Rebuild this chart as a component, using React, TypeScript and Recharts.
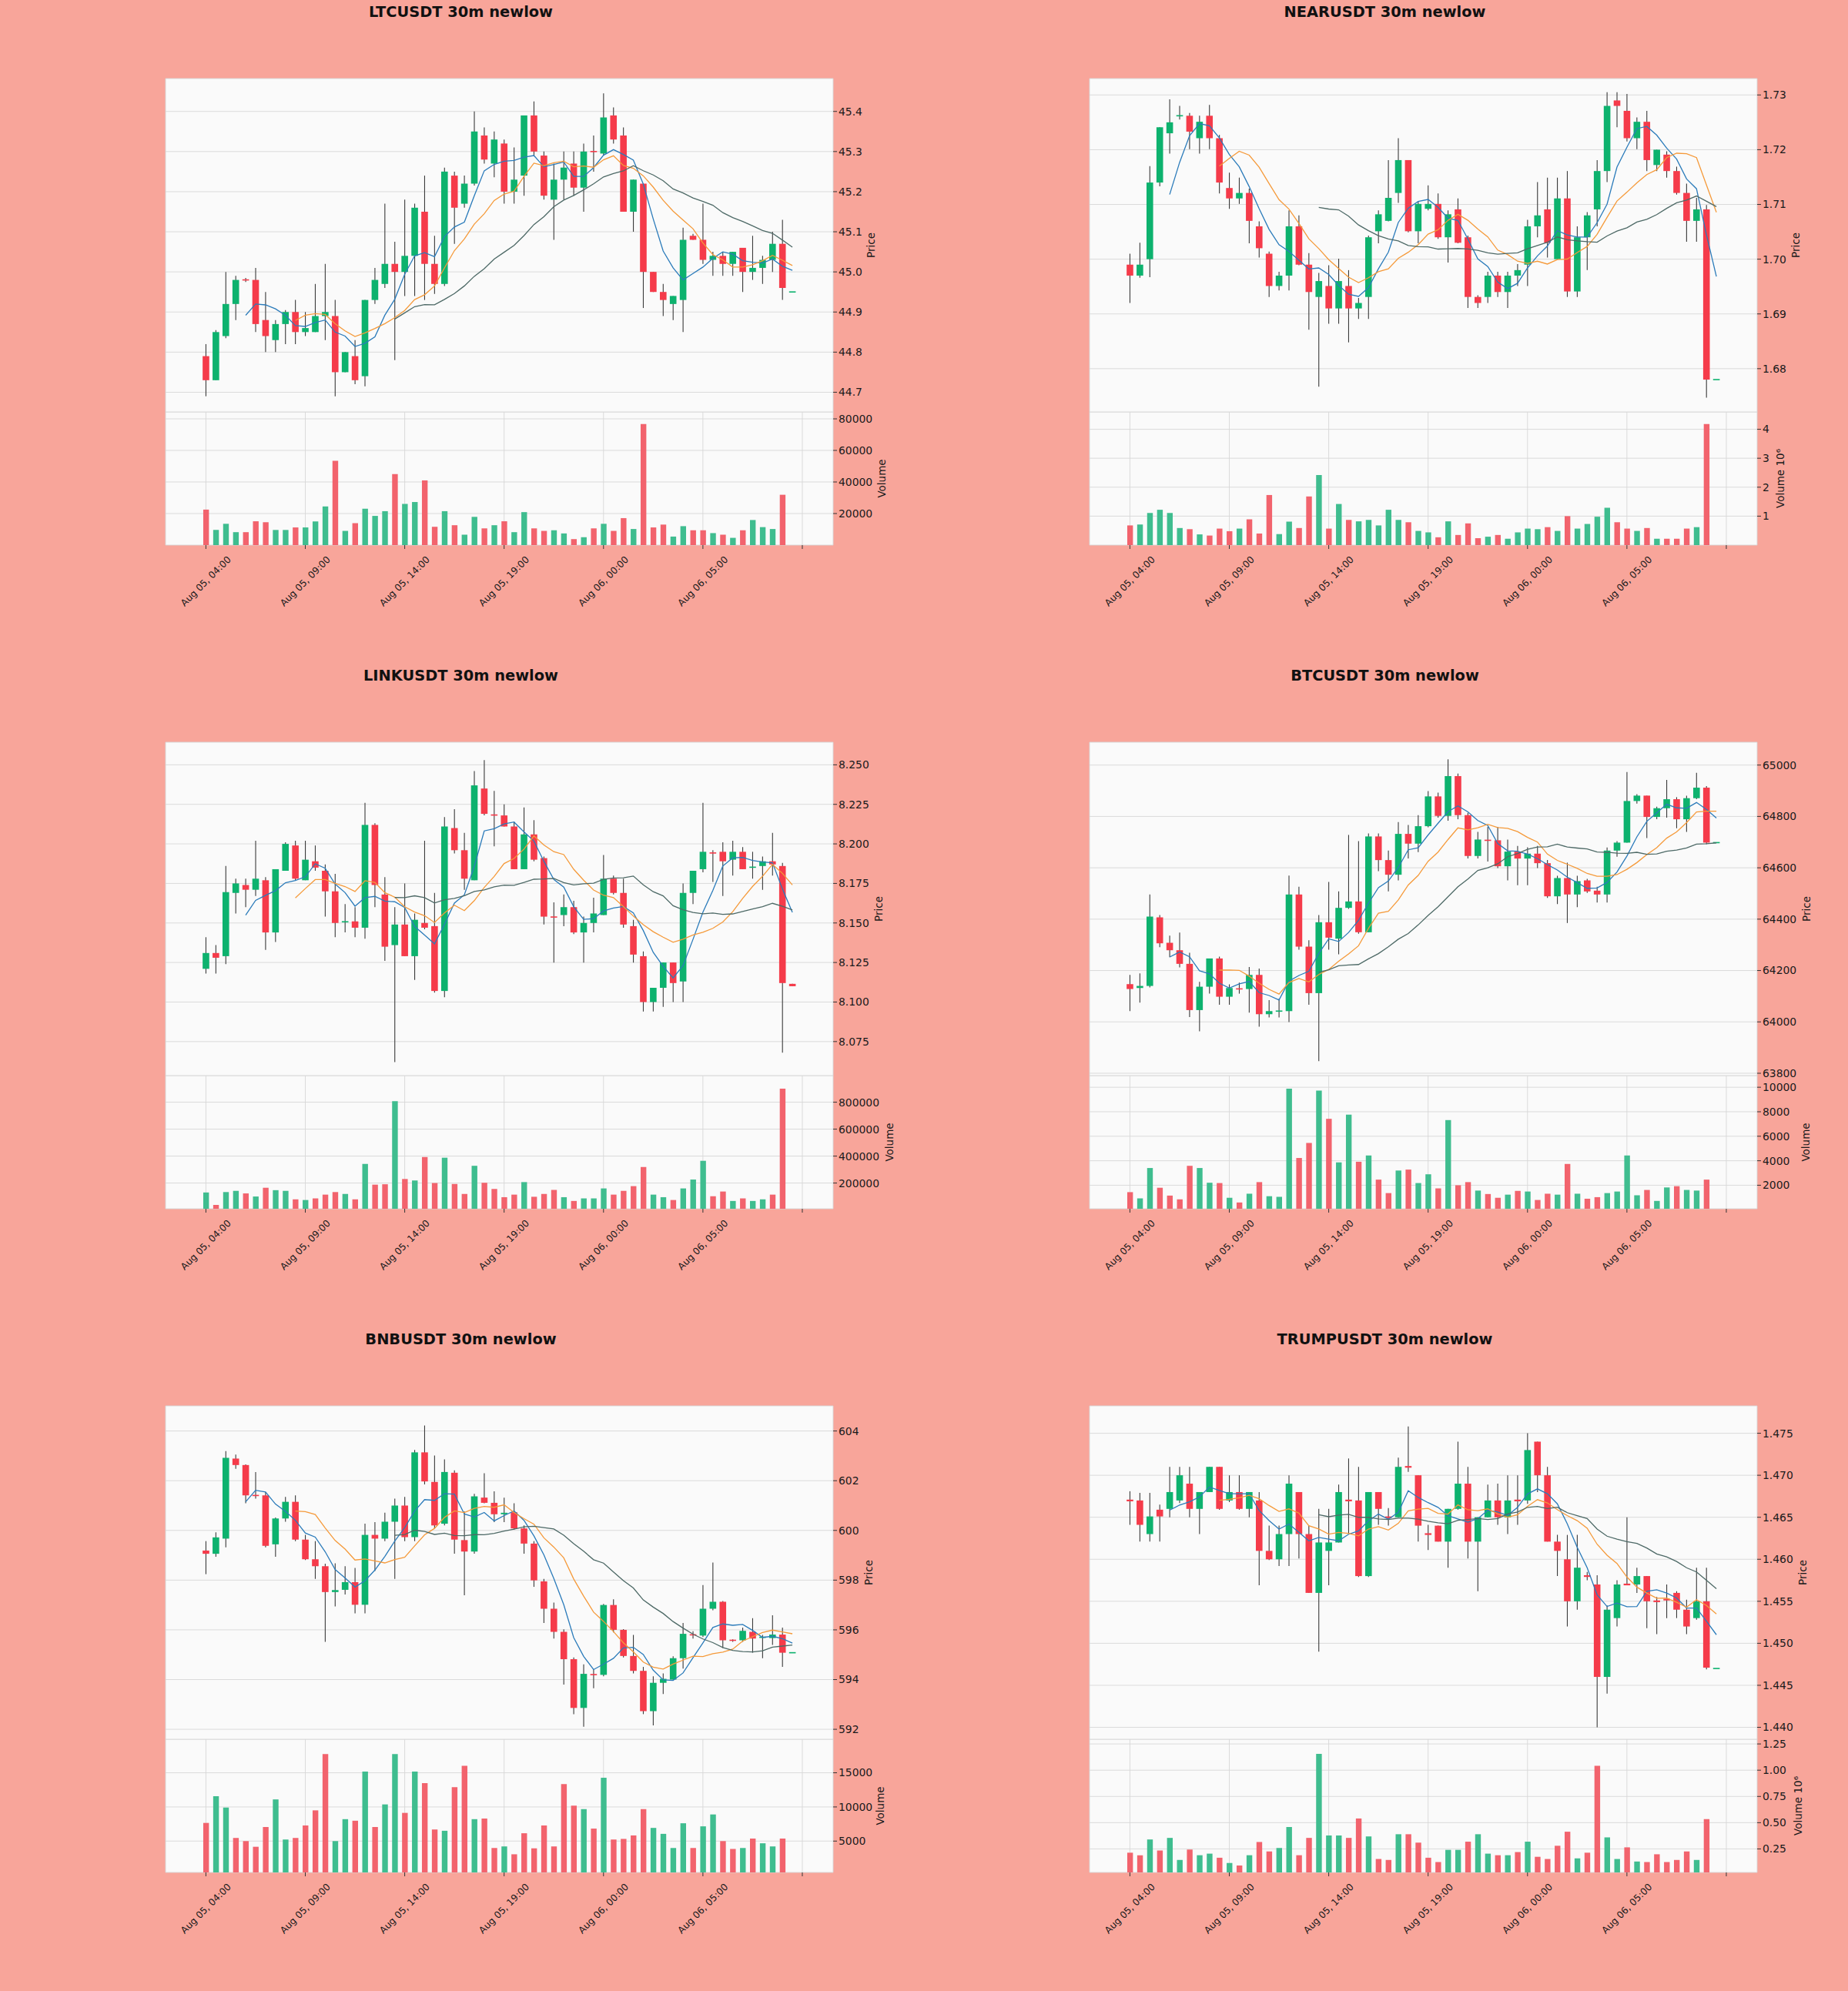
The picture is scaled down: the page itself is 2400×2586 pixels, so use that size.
import React from 'react';
import { ComposedChart, Bar, Line, XAxis, YAxis, CartesianGrid, Cell } from 'recharts';

// shared x axis: 30m candles, index 0 = Aug 05 04:00
const xTicks = [0, 10, 20, 30, 40, 50, 60];
const xTickLabels = ['Aug 05, 04:00', 'Aug 05, 09:00', 'Aug 05, 14:00', 'Aug 05, 19:00', 'Aug 06, 00:00', 'Aug 06, 05:00', ''];

// ---------------- LTCUSDT ----------------
const ltcOpen = [44.79, 44.73, 44.84, 44.92, 44.981, 44.98, 44.88, 44.83, 44.87, 44.9, 44.85, 44.85, 44.89, 44.89, 44.75, 44.79, 44.74, 44.93, 44.97, 45.02, 45.0, 45.04, 45.15, 45.02, 44.97, 45.24, 45.17, 45.22, 45.34, 45.27, 45.32, 45.2, 45.24, 45.39, 45.29, 45.18, 45.23, 45.27, 45.21, 45.301, 45.295, 45.39, 45.34, 45.15, 45.22, 45.0, 44.95, 44.92, 44.93, 45.09, 45.08, 45.03, 45.04, 45.02, 45.06, 45.0, 45.01, 45.03, 45.07, 44.95];
const ltcHigh = [44.82, 44.855, 45.0, 44.99, 44.985, 45.01, 44.95, 44.88, 44.905, 44.93, 44.9, 44.97, 45.02, 44.93, 44.8, 44.83, 44.93, 45.01, 45.17, 45.075, 45.18, 45.17, 45.24, 45.09, 45.26, 45.25, 45.24, 45.4, 45.36, 45.35, 45.33, 45.31, 45.39, 45.425, 45.3, 45.27, 45.3, 45.3, 45.32, 45.34, 45.445, 45.41, 45.36, 45.23, 45.22, 45.0, 44.97, 44.94, 45.11, 45.095, 45.17, 45.05, 45.05, 45.05, 45.06, 45.09, 45.04, 45.1, 45.13, 44.95];
const ltcLow = [44.69, 44.73, 44.835, 44.88, 44.975, 44.85, 44.8, 44.8, 44.82, 44.82, 44.84, 44.85, 44.83, 44.69, 44.75, 44.72, 44.715, 44.92, 44.96, 44.78, 44.94, 44.94, 44.93, 44.945, 44.965, 45.07, 45.16, 45.215, 45.27, 45.236, 45.17, 45.17, 45.19, 45.29, 45.18, 45.08, 45.18, 45.19, 45.15, 45.25, 45.29, 45.32, 45.15, 45.1, 44.91, 44.95, 44.89, 44.88, 44.85, 45.08, 45.02, 44.99, 44.99, 44.99, 44.95, 44.98, 44.97, 45.0, 44.93, 44.95];
const ltcClose = [44.73, 44.85, 44.92, 44.98, 44.979, 44.87, 44.84, 44.87, 44.9, 44.85, 44.86, 44.89, 44.9, 44.75, 44.8, 44.73, 44.93, 44.98, 45.02, 45.0, 45.04, 45.16, 45.02, 44.97, 45.25, 45.16, 45.22, 45.35, 45.28, 45.33, 45.2, 45.23, 45.39, 45.3, 45.19, 45.23, 45.26, 45.21, 45.3, 45.299, 45.385, 45.33, 45.15, 45.23, 45.0, 44.95, 44.93, 44.94, 45.08, 45.08, 45.03, 45.04, 45.02, 45.05, 45.0, 45.01, 45.03, 45.07, 44.96, 44.95];
const ltcVolume = [22500, 9600, 13500, 8200, 8200, 15100, 14500, 9600, 9600, 11200, 11200, 15000, 24500, 53400, 9000, 13900, 23100, 18500, 21500, 45000, 26100, 27300, 41000, 11600, 21500, 12600, 6600, 17900, 10600, 12600, 15100, 8200, 20900, 10600, 9000, 9400, 7400, 3800, 5000, 10600, 13500, 9000, 17100, 10200, 76700, 11200, 13000, 5400, 12000, 9400, 9400, 7600, 6600, 4600, 9400, 15900, 11400, 10200, 31900, 0];

// ---------------- NEARUSDT ----------------
const nearOpen = [1.699, 1.697, 1.7, 1.714, 1.723, 1.7261, 1.7262, 1.7221, 1.7262, 1.7221, 1.713, 1.7111, 1.7121, 1.706, 1.701, 1.6951, 1.697, 1.706, 1.699, 1.6931, 1.6951, 1.691, 1.6951, 1.691, 1.6931, 1.7051, 1.707, 1.7121, 1.7181, 1.7051, 1.7092, 1.7101, 1.704, 1.7091, 1.704, 1.6931, 1.6931, 1.697, 1.694, 1.697, 1.699, 1.706, 1.7091, 1.7, 1.7111, 1.6941, 1.704, 1.7091, 1.7161, 1.729, 1.7271, 1.7221, 1.7251, 1.7172, 1.7191, 1.7161, 1.7121, 1.707, 1.7091, 1.678];
const nearHigh = [1.701, 1.703, 1.717, 1.7241, 1.7292, 1.728, 1.7267, 1.7262, 1.7282, 1.7227, 1.7158, 1.7149, 1.7129, 1.7069, 1.7014, 1.6977, 1.7089, 1.708, 1.7011, 1.6975, 1.6989, 1.7001, 1.698, 1.6929, 1.7043, 1.7089, 1.7181, 1.7221, 1.7181, 1.7106, 1.7135, 1.712, 1.7089, 1.7111, 1.7043, 1.6934, 1.6977, 1.6977, 1.6977, 1.6991, 1.7072, 1.7141, 1.7149, 1.7149, 1.7161, 1.706, 1.7086, 1.7181, 1.7305, 1.7305, 1.7302, 1.7259, 1.7271, 1.72, 1.7197, 1.7169, 1.7138, 1.7112, 1.7099, 1.678];
const nearLow = [1.692, 1.6966, 1.6967, 1.7133, 1.7193, 1.7255, 1.7201, 1.7193, 1.7201, 1.712, 1.7092, 1.7101, 1.7029, 1.7003, 1.6931, 1.6943, 1.6943, 1.6989, 1.6871, 1.6767, 1.6882, 1.6882, 1.6848, 1.6891, 1.6891, 1.7029, 1.7069, 1.7103, 1.7049, 1.7029, 1.7089, 1.7037, 1.6994, 1.7029, 1.6911, 1.6911, 1.692, 1.6931, 1.6911, 1.6951, 1.6951, 1.704, 1.7003, 1.7, 1.6931, 1.6931, 1.698, 1.706, 1.7141, 1.7241, 1.7215, 1.7201, 1.7161, 1.7161, 1.7149, 1.7118, 1.7032, 1.7032, 1.6747, 1.678];
const nearClose = [1.697, 1.699, 1.714, 1.7241, 1.725, 1.7263, 1.7233, 1.7251, 1.7221, 1.714, 1.7111, 1.7121, 1.707, 1.702, 1.6951, 1.697, 1.706, 1.699, 1.694, 1.696, 1.691, 1.696, 1.691, 1.692, 1.704, 1.7082, 1.7112, 1.7181, 1.7051, 1.7101, 1.7101, 1.704, 1.7082, 1.703, 1.6931, 1.692, 1.697, 1.694, 1.697, 1.698, 1.706, 1.708, 1.703, 1.7111, 1.6941, 1.704, 1.708, 1.7161, 1.728, 1.728, 1.7221, 1.7251, 1.7181, 1.72, 1.7161, 1.7121, 1.707, 1.7091, 1.678, 1.678];
const nearVolume = [680000, 710000, 1110000, 1220000, 1110000, 590000, 550000, 370000, 330000, 570000, 480000, 570000, 890000, 400000, 1730000, 380000, 810000, 590000, 1680000, 2420000, 570000, 1420000, 870000, 820000, 870000, 680000, 1220000, 870000, 790000, 490000, 440000, 270000, 820000, 350000, 750000, 240000, 290000, 350000, 220000, 440000, 570000, 550000, 620000, 490000, 1000000, 570000, 730000, 980000, 1290000, 790000, 570000, 490000, 590000, 220000, 220000, 220000, 570000, 620000, 4180000, 0];

// ---------------- LINKUSDT ----------------
const linkOpen = [8.121, 8.131, 8.129, 8.169, 8.174, 8.171, 8.177, 8.144, 8.183, 8.199, 8.177, 8.189, 8.183, 8.17, 8.1505, 8.151, 8.147, 8.212, 8.168, 8.136, 8.149, 8.129, 8.15, 8.148, 8.107, 8.21, 8.196, 8.177, 8.235, 8.2185, 8.218, 8.211, 8.184, 8.206, 8.191, 8.154, 8.155, 8.16, 8.144, 8.15, 8.155, 8.178, 8.169, 8.148, 8.129, 8.1, 8.109, 8.125, 8.113, 8.169, 8.184, 8.1945, 8.195, 8.19, 8.195, 8.185, 8.186, 8.189, 8.186, 8.1115];
const linkHigh = [8.141, 8.136, 8.186, 8.178, 8.178, 8.202, 8.179, 8.184, 8.201, 8.202, 8.202, 8.199, 8.187, 8.181, 8.162, 8.16, 8.226, 8.213, 8.179, 8.16, 8.175, 8.156, 8.202, 8.169, 8.217, 8.222, 8.207, 8.246, 8.253, 8.2335, 8.225, 8.214, 8.223, 8.215, 8.192, 8.163, 8.168, 8.164, 8.154, 8.166, 8.193, 8.18, 8.178, 8.152, 8.132, 8.109, 8.125, 8.125, 8.175, 8.183, 8.226, 8.196, 8.201, 8.202, 8.198, 8.195, 8.192, 8.207, 8.188, 8.1115];
const linkLow = [8.118, 8.118, 8.124, 8.156, 8.16, 8.167, 8.133, 8.138, 8.183, 8.177, 8.177, 8.183, 8.154, 8.141, 8.144, 8.141, 8.14, 8.16, 8.126, 8.062, 8.129, 8.114, 8.146, 8.106, 8.103, 8.194, 8.171, 8.177, 8.218, 8.1985, 8.211, 8.184, 8.184, 8.189, 8.149, 8.125, 8.148, 8.143, 8.125, 8.144, 8.155, 8.168, 8.147, 8.125, 8.094, 8.094, 8.097, 8.1, 8.1, 8.162, 8.182, 8.176, 8.167, 8.18, 8.184, 8.178, 8.171, 8.18, 8.068, 8.11];
const linkClose = [8.131, 8.128, 8.1695, 8.175, 8.171, 8.178, 8.144, 8.184, 8.2, 8.178, 8.19, 8.185, 8.17, 8.15, 8.151, 8.147, 8.212, 8.174, 8.135, 8.149, 8.129, 8.152, 8.147, 8.107, 8.211, 8.196, 8.178, 8.237, 8.219, 8.218, 8.211, 8.184, 8.206, 8.19, 8.154, 8.1535, 8.16, 8.144, 8.15, 8.156, 8.178, 8.169, 8.149, 8.13, 8.1, 8.109, 8.125, 8.112, 8.169, 8.183, 8.195, 8.194, 8.189, 8.195, 8.184, 8.1855, 8.189, 8.187, 8.112, 8.11];
const linkVolume = [130000, 37000, 133000, 142000, 123000, 100000, 165000, 147000, 142000, 79000, 74000, 86000, 114000, 133000, 119000, 79000, 342000, 188000, 191000, 807000, 230000, 219000, 393000, 200000, 388000, 193000, 119000, 328000, 202000, 156000, 95000, 114000, 207000, 98000, 119000, 149000, 95000, 67000, 86000, 86000, 160000, 114000, 142000, 177000, 319000, 114000, 95000, 74000, 160000, 226000, 365000, 102000, 137000, 67000, 86000, 67000, 79000, 114000, 900000, 0];

// ---------------- BTCUSDT ----------------
const btcOpen = [64147, 64132, 64140, 64407, 64308, 64279, 64226, 64046, 64137, 64247, 64098, 64130, 64128, 64183, 64030, 64041, 64042, 64496, 64293, 64112, 64388, 64324, 64444, 64469, 64349, 64722, 64630, 64573, 64732, 64694, 64762, 64878, 64802, 64957, 64805, 64646, 64708, 64707, 64606, 64663, 64636, 64655, 64618, 64489, 64560, 64496, 64551, 64511, 64496, 64667, 64698, 64860, 64881, 64798, 64832, 64867, 64789, 64871, 64912, 64698];
const btcHigh = [64183, 64189, 64496, 64416, 64336, 64348, 64269, 64156, 64247, 64254, 64146, 64153, 64214, 64208, 64085, 64090, 64570, 64526, 64318, 64416, 64545, 64508, 64728, 64704, 64734, 64734, 64667, 64778, 64767, 64805, 64899, 64893, 65022, 64967, 64814, 64740, 64759, 64759, 64710, 64685, 64680, 64685, 64630, 64569, 64620, 64569, 64557, 64526, 64679, 64704, 64973, 64887, 64881, 64838, 64942, 64875, 64881, 64970, 64918, 64698];
const btcLow = [64042, 64075, 64134, 64291, 64252, 64212, 64019, 63963, 64110, 64067, 64067, 64110, 64036, 63981, 64017, 64017, 63999, 64281, 64067, 63847, 64281, 64263, 64440, 64343, 64349, 64587, 64508, 64551, 64636, 64661, 64758, 64795, 64783, 64789, 64636, 64636, 64624, 64599, 64551, 64532, 64532, 64599, 64483, 64459, 64385, 64447, 64502, 64465, 64465, 64643, 64698, 64850, 64716, 64789, 64795, 64754, 64740, 64867, 64692, 64698];
const btcClose = [64128, 64140, 64410, 64306, 64279, 64226, 64046, 64137, 64247, 64098, 64132, 64127, 64183, 64030, 64042, 64043, 64496, 64293, 64112, 64388, 64328, 64444, 64469, 64349, 64722, 64630, 64573, 64732, 64694, 64762, 64878, 64802, 64957, 64805, 64646, 64710, 64706, 64606, 64663, 64636, 64655, 64618, 64489, 64560, 64496, 64548, 64508, 64496, 64667, 64698, 64860, 64881, 64798, 64832, 64867, 64789, 64871, 64912, 64698, 64698];
const btcVolume = [1437, 926, 3407, 1795, 1156, 849, 3586, 3407, 2205, 2179, 977, 593, 1309, 2256, 1105, 1054, 9879, 4226, 5453, 9725, 7423, 3867, 7756, 3918, 4430, 2460, 1360, 3202, 3279, 2179, 2895, 1744, 7320, 2000, 2256, 1565, 1284, 977, 1233, 1540, 1488, 798, 1309, 1233, 3739, 1309, 900, 1028, 1360, 1488, 4430, 1181, 1616, 721, 1821, 1923, 1616, 1565, 2460, 0];

// ---------------- BNBUSDT ----------------
const bnbOpen = [599.19, 599.06, 599.67, 602.89, 602.63, 601.41, 601.41, 599.44, 600.48, 601.15, 599.63, 598.84, 598.56, 597.52, 597.61, 597.92, 597.01, 599.82, 599.67, 600.35, 601.0, 599.73, 603.14, 601.95, 600.27, 602.32, 599.61, 599.15, 601.32, 601.11, 600.65, 600.73, 600.08, 599.47, 597.95, 596.85, 595.92, 594.82, 592.86, 594.21, 594.19, 597.0, 596.0, 594.95, 594.35, 592.73, 593.87, 594.0, 594.86, 595.81, 595.77, 596.85, 597.13, 595.59, 595.58, 595.92, 595.68, 595.67, 595.81, 595.08];
const bnbHigh = [599.57, 599.92, 603.19, 603.05, 602.66, 602.35, 601.54, 600.52, 601.35, 601.41, 599.82, 599.57, 598.66, 598.68, 598.56, 598.49, 600.27, 600.33, 600.71, 601.28, 601.35, 603.24, 604.22, 603.01, 602.86, 602.42, 600.77, 601.47, 602.3, 601.57, 601.32, 601.09, 600.2, 599.57, 598.05, 597.1, 596.02, 594.89, 594.61, 594.41, 597.04, 597.23, 596.03, 595.8, 594.51, 594.13, 594.25, 594.94, 596.28, 595.94, 597.8, 598.71, 597.16, 595.62, 596.09, 596.47, 595.8, 596.59, 596.09, 595.08];
const bnbLow = [598.24, 598.94, 599.32, 602.48, 601.09, 601.28, 599.32, 598.94, 600.35, 599.57, 598.81, 598.05, 595.52, 596.94, 597.42, 596.66, 596.66, 598.37, 599.57, 598.05, 599.57, 599.57, 601.85, 600.08, 600.2, 599.06, 597.39, 599.06, 601.09, 600.33, 600.33, 600.03, 599.06, 597.73, 596.28, 595.65, 593.8, 592.61, 592.1, 593.65, 594.13, 595.9, 594.89, 594.25, 592.61, 592.16, 593.42, 594.0, 594.44, 595.65, 595.71, 596.79, 595.27, 595.52, 595.52, 595.08, 594.86, 595.39, 594.51, 595.08];
const bnbClose = [599.06, 599.72, 602.92, 602.63, 601.41, 601.4, 599.38, 600.48, 601.15, 599.63, 598.84, 598.56, 597.52, 597.6, 597.92, 597.01, 599.82, 599.67, 600.35, 601.0, 599.73, 603.14, 601.97, 600.2, 602.35, 599.63, 599.15, 601.37, 601.11, 600.65, 600.71, 600.08, 599.47, 597.99, 596.85, 595.92, 594.82, 592.86, 594.23, 594.19, 597.0, 596.0, 594.95, 594.35, 592.73, 593.87, 594.03, 594.86, 595.84, 595.79, 596.85, 597.13, 595.58, 595.57, 595.96, 595.65, 595.72, 595.81, 595.08, 595.08];
const bnbVolume = [7660, 11560, 9910, 5460, 5000, 4170, 7060, 11100, 5230, 5460, 7290, 9500, 17750, 5000, 8210, 7980, 15180, 7060, 10370, 17750, 9130, 15180, 13490, 6700, 6510, 12890, 16010, 8210, 8300, 3990, 4220, 3070, 6150, 3940, 7290, 4220, 13350, 10180, 9680, 6830, 14270, 5230, 5320, 5830, 9680, 6930, 6060, 3990, 7610, 3990, 7160, 8900, 5000, 3850, 3990, 5370, 4680, 4220, 5370, 0];

// ---------------- TRUMPUSDT ----------------
const trumpOpen = [1.4671, 1.467, 1.463, 1.4659, 1.466, 1.467, 1.469, 1.466, 1.468, 1.471, 1.467, 1.468, 1.466, 1.467, 1.461, 1.46, 1.463, 1.468, 1.463, 1.456, 1.461, 1.462, 1.4671, 1.467, 1.458, 1.468, 1.4651, 1.465, 1.4711, 1.47, 1.4631, 1.464, 1.4621, 1.466, 1.469, 1.4621, 1.465, 1.467, 1.465, 1.4671, 1.467, 1.474, 1.47, 1.4621, 1.46, 1.455, 1.4581, 1.457, 1.446, 1.453, 1.4571, 1.457, 1.458, 1.4551, 1.4553, 1.456, 1.454, 1.453, 1.455, 1.447];
const trumpHigh = [1.4681, 1.4679, 1.4679, 1.4665, 1.471, 1.471, 1.471, 1.468, 1.471, 1.471, 1.47, 1.47, 1.468, 1.468, 1.464, 1.464, 1.47, 1.468, 1.464, 1.466, 1.466, 1.4689, 1.472, 1.471, 1.468, 1.468, 1.4661, 1.4721, 1.4758, 1.47, 1.4641, 1.464, 1.466, 1.474, 1.471, 1.465, 1.4689, 1.469, 1.47, 1.47, 1.475, 1.474, 1.471, 1.4629, 1.4629, 1.4629, 1.4585, 1.4581, 1.4545, 1.4575, 1.465, 1.459, 1.458, 1.4555, 1.457, 1.4562, 1.4552, 1.459, 1.459, 1.447];
const trumpLow = [1.4641, 1.4621, 1.4621, 1.4621, 1.465, 1.4667, 1.465, 1.463, 1.468, 1.4659, 1.4668, 1.4659, 1.465, 1.4569, 1.4599, 1.4592, 1.4592, 1.4601, 1.456, 1.449, 1.4569, 1.462, 1.463, 1.4579, 1.4579, 1.4641, 1.464, 1.465, 1.4704, 1.4621, 1.4611, 1.4621, 1.459, 1.4659, 1.4601, 1.4562, 1.465, 1.4641, 1.463, 1.4641, 1.4666, 1.468, 1.4621, 1.458, 1.452, 1.454, 1.4575, 1.44, 1.444, 1.452, 1.4569, 1.456, 1.4518, 1.4511, 1.453, 1.453, 1.4511, 1.4528, 1.4469, 1.447];
const trumpClose = [1.4669, 1.4641, 1.4651, 1.4651, 1.468, 1.47, 1.466, 1.468, 1.471, 1.466, 1.468, 1.466, 1.468, 1.461, 1.46, 1.463, 1.469, 1.463, 1.456, 1.462, 1.462, 1.468, 1.4669, 1.458, 1.468, 1.466, 1.4649, 1.471, 1.4709, 1.464, 1.4629, 1.4621, 1.466, 1.469, 1.4621, 1.465, 1.467, 1.465, 1.467, 1.4669, 1.473, 1.47, 1.4621, 1.461, 1.455, 1.459, 1.4579, 1.446, 1.454, 1.457, 1.4569, 1.458, 1.455, 1.4549, 1.4551, 1.454, 1.452, 1.455, 1.4471, 1.447];
const trumpVolume = [214000, 190000, 340000, 235000, 355000, 145000, 244000, 190000, 205000, 166000, 116000, 92000, 190000, 316000, 226000, 259000, 459000, 190000, 355000, 1155000, 378000, 378000, 355000, 540000, 369000, 154000, 145000, 390000, 390000, 310000, 166000, 125000, 241000, 241000, 319000, 390000, 205000, 190000, 190000, 220000, 319000, 175000, 154000, 280000, 414000, 160000, 214000, 1042000, 360000, 154000, 265000, 130000, 125000, 199000, 125000, 145000, 226000, 145000, 534000, 0];

// ---------------- styling ----------------
const BG = '#f8a59a';
const PLOT_BG = '#fafafa';
const GRID = '#d7d7d7';
const UP = '#0db26e';
const DOWN = '#f53b4a';
const VOL_UP = '#3fbd8f';
const VOL_DOWN = '#f2636d';
const WICK = '#3a3a3a';
const MA_COLORS = ['#2b7bba', '#f59a3a', '#4d6966'];
const FONT = 'DejaVu Sans';

const PLOT_W = 867;
const PRICE_H = 433;
const VOL_H = 173;
const AXIS_W = 120;
const XAXIS_H = 110;
const X_DOMAIN = [-4.06, 63.1];

function sma(values: number[], n: number) {
  return values.map((_, i) => {
    if (i < n - 1) return null;
    let s = 0;
    for (let k = i - n + 1; k <= i; k++) s += values[k];
    return s / n;
  });
}

function buildRows(o: number[], h: number[], l: number[], c: number[], v: number[]) {
  const ma5 = sma(c, 5);
  const ma10 = sma(c, 10);
  const ma20 = sma(c, 20);
  return c.map((_, i) => ({
    i,
    open: o[i],
    high: h[i],
    low: l[i],
    close: c[i],
    range: [l[i], h[i]],
    volume: v[i],
    ma5: ma5[i],
    ma10: ma10[i],
    ma20: ma20[i],
  }));
}

function Candle(props: any) {
  const { x, y, width, height, payload } = props;
  if (x == null || y == null || !payload) return null;
  const top = Math.min(y, y + height);
  const bot = Math.max(y, y + height);
  const span = payload.high - payload.low;
  const toY = (p: number) => (span > 0 ? top + ((payload.high - p) / span) * (bot - top) : top);
  const cx = x + width / 2;
  const color = payload.close >= payload.open ? UP : DOWN;
  const bTop = toY(Math.max(payload.open, payload.close));
  const bBot = toY(Math.min(payload.open, payload.close));
  const bh = Math.max(bBot - bTop, 1.6);
  const mid = (bTop + bBot) / 2;
  return (
    <g>
      {span > 0 && <line x1={cx} x2={cx} y1={top} y2={bot} stroke={WICK} strokeWidth={1.1} />}
      <rect x={cx - 4.3} y={mid - bh / 2} width={8.6} height={bh} fill={color} />
    </g>
  );
}

function DateTick(props: any) {
  const { x, y, payload } = props;
  const label = xTickLabels[xTicks.indexOf(payload.value)];
  if (!label) return null;
  const cy = y + 42;
  return (
    <text
      x={x}
      y={cy}
      transform={`rotate(-45 ${x} ${cy})`}
      textAnchor="middle"
      dominantBaseline="central"
      fontSize={12.2}
      fontFamily={FONT}
      fill="#1a1a1a"
    >
      {label}
    </text>
  );
}

function sideLabel(text: string, offset: number) {
  return (props: any) => {
    const vb = props.viewBox || {};
    const cx = vb.x + offset;
    const cy = vb.y + vb.height / 2;
    return (
      <text
        x={cx}
        y={cy}
        transform={`rotate(-90 ${cx} ${cy})`}
        textAnchor="middle"
        dominantBaseline="central"
        fontSize={13.5}
        fontFamily={FONT}
        fill="#1a1a1a"
      >
        {text}
      </text>
    );
  };
}

const tickStyle = { fontSize: 13.9, fill: '#1a1a1a', fontFamily: FONT };

interface PanelProps {
  title: string;
  left: number;
  top: number;
  rows: any[];
  priceDomain: number[];
  priceTicks: number[];
  priceFmt: (v: number) => string;
  priceLabelOffset: number;
  volDomain: number[];
  volTicks: number[];
  volFmt: (v: number) => string;
  volLabel: string;
  volLabelOffset: number;
}

function Panel(p: PanelProps) {
  return (
    <>
      <div
        style={{
          position: 'absolute',
          left: p.left + PLOT_W / 2 - 50 - 300,
          top: p.top - 86 - 12,
          width: 600,
          height: 24,
          lineHeight: '24px',
          textAlign: 'center',
          fontFamily: FONT,
          fontWeight: 'bold',
          fontSize: 19.4,
          color: '#111',
        }}
      >
        {p.title}
      </div>
      <div style={{ position: 'absolute', left: p.left, top: p.top + PRICE_H }}>
        <ComposedChart width={PLOT_W + AXIS_W} height={VOL_H + XAXIS_H} data={p.rows} margin={{ top: 0, right: 0, bottom: 0, left: 0 }}>
          <CartesianGrid stroke={GRID} strokeWidth={0.9} fill={PLOT_BG} fillOpacity={1} />
          <XAxis
            dataKey="i"
            type="number"
            domain={X_DOMAIN}
            ticks={xTicks}
            allowDataOverflow
            height={XAXIS_H}
            tick={<DateTick />}
            tickSize={5}
            tickMargin={0}
            tickLine={{ stroke: '#333' }}
            axisLine={false}
            interval={0}
          />
          <YAxis
            orientation="right"
            width={AXIS_W}
            domain={p.volDomain}
            ticks={p.volTicks}
            interval={0}
            allowDataOverflow
            tickFormatter={p.volFmt}
            tick={tickStyle}
            tickSize={5}
            tickMargin={2}
            tickLine={{ stroke: '#333' }}
            axisLine={false}
            label={sideLabel(p.volLabel, p.volLabelOffset)}
          />
          <Bar dataKey="volume" barSize={7.4} isAnimationActive={false}>
            {p.rows.map((r, k) => (
              <Cell key={k} fill={r.close >= r.open ? VOL_UP : VOL_DOWN} />
            ))}
          </Bar>
        </ComposedChart>
      </div>
      <div style={{ position: 'absolute', left: p.left, top: p.top }}>
        <ComposedChart width={PLOT_W + AXIS_W} height={PRICE_H} data={p.rows} margin={{ top: 0, right: 0, bottom: 0, left: 0 }}>
          <CartesianGrid stroke={GRID} strokeWidth={0.9} fill={PLOT_BG} fillOpacity={1} />
          <XAxis
            dataKey="i"
            type="number"
            domain={X_DOMAIN}
            ticks={xTicks}
            allowDataOverflow
            height={0}
            tick={false}
            tickLine={false}
            axisLine={false}
          />
          <YAxis
            orientation="right"
            width={AXIS_W}
            domain={p.priceDomain}
            ticks={p.priceTicks}
            interval={0}
            allowDataOverflow
            tickFormatter={p.priceFmt}
            tick={tickStyle}
            tickSize={5}
            tickMargin={2}
            tickLine={{ stroke: '#333' }}
            axisLine={false}
            label={sideLabel('Price', p.priceLabelOffset)}
          />
          <Bar dataKey="range" barSize={9} shape={Candle} isAnimationActive={false} />
          <Line dataKey="ma5" stroke={MA_COLORS[0]} strokeWidth={1.3} dot={false} isAnimationActive={false} />
          <Line dataKey="ma10" stroke={MA_COLORS[1]} strokeWidth={1.3} dot={false} isAnimationActive={false} />
          <Line dataKey="ma20" stroke={MA_COLORS[2]} strokeWidth={1.3} dot={false} isAnimationActive={false} />
        </ComposedChart>
      </div>
    </>
  );
}

const COLS = [215, 1415];
const ROWS = [102, 964, 1826];

const fix = (d: number) => (v: number) => v.toFixed(d);
const plain = (v: number) => String(v);
const mega = (d: number) => (v: number) => (v / 1e6).toFixed(d);

export default function App() {
  return (
    <div style={{ position: 'absolute', left: 0, top: 0, width: 2400, height: 2586, background: BG, fontFamily: FONT, overflow: 'hidden' }}>
      <style>{'.recharts-surface { overflow: visible; }'}</style>
      <Panel
        title="LTCUSDT 30m newlow"
        left={COLS[0]}
        top={ROWS[0]}
        rows={buildRows(ltcOpen, ltcHigh, ltcLow, ltcClose, ltcVolume)}
        priceDomain={[44.651, 45.482]}
        priceTicks={[44.7, 44.8, 44.9, 45.0, 45.1, 45.2, 45.3, 45.4]}
        priceFmt={fix(1)}
        priceLabelOffset={49}
        volDomain={[0, 84400]}
        volTicks={[20000, 40000, 60000, 80000]}
        volFmt={plain}
        volLabel="Volume"
        volLabelOffset={63}
      />
      <Panel
        title="NEARUSDT 30m newlow"
        left={COLS[1]}
        top={ROWS[0]}
        rows={buildRows(nearOpen, nearHigh, nearLow, nearClose, nearVolume)}
        priceDomain={[1.6721, 1.733]}
        priceTicks={[1.68, 1.69, 1.7, 1.71, 1.72, 1.73]}
        priceFmt={fix(2)}
        priceLabelOffset={50}
        volDomain={[0, 4600000]}
        volTicks={[1000000, 2000000, 3000000, 4000000]}
        volFmt={mega(0)}
        volLabel="Volume  10⁶"
        volLabelOffset={30}
      />
      <Panel
        title="LINKUSDT 30m newlow"
        left={COLS[0]}
        top={ROWS[1]}
        rows={buildRows(linkOpen, linkHigh, linkLow, linkClose, linkVolume)}
        priceDomain={[8.0535, 8.2643]}
        priceTicks={[8.075, 8.1, 8.125, 8.15, 8.175, 8.2, 8.225, 8.25]}
        priceFmt={fix(3)}
        priceLabelOffset={59}
        volDomain={[9000, 997700]}
        volTicks={[200000, 400000, 600000, 800000]}
        volFmt={plain}
        volLabel="Volume"
        volLabelOffset={73}
      />
      <Panel
        title="BTCUSDT 30m newlow"
        left={COLS[1]}
        top={ROWS[1]}
        rows={buildRows(btcOpen, btcHigh, btcLow, btcClose, btcVolume)}
        priceDomain={[63791, 65089]}
        priceTicks={[63800, 64000, 64200, 64400, 64600, 64800, 65000]}
        priceFmt={fix(0)}
        priceLabelOffset={64}
        volDomain={[80, 10953]}
        volTicks={[2000, 4000, 6000, 8000, 10000]}
        volFmt={plain}
        volLabel="Volume"
        volLabelOffset={63}
      />
      <Panel
        title="BNBUSDT 30m newlow"
        left={COLS[0]}
        top={ROWS[2]}
        rows={buildRows(bnbOpen, bnbHigh, bnbLow, bnbClose, bnbVolume)}
        priceDomain={[591.6, 605.01]}
        priceTicks={[592, 594, 596, 598, 600, 602, 604]}
        priceFmt={fix(0)}
        priceLabelOffset={46}
        volDomain={[413, 19908]}
        volTicks={[5000, 10000, 15000]}
        volFmt={plain}
        volLabel="Volume"
        volLabelOffset={61}
      />
      <Panel
        title="TRUMPUSDT 30m newlow"
        left={COLS[1]}
        top={ROWS[2]}
        rows={buildRows(trumpOpen, trumpHigh, trumpLow, trumpClose, trumpVolume)}
        priceDomain={[1.43858, 1.47826]}
        priceTicks={[1.44, 1.445, 1.45, 1.455, 1.46, 1.465, 1.47, 1.475]}
        priceFmt={fix(3)}
        priceLabelOffset={59}
        volDomain={[26000, 1294800]}
        volTicks={[250000, 500000, 750000, 1000000, 1250000]}
        volFmt={mega(2)}
        volLabel="Volume  10⁶"
        volLabelOffset={53}
      />
    </div>
  );
}
